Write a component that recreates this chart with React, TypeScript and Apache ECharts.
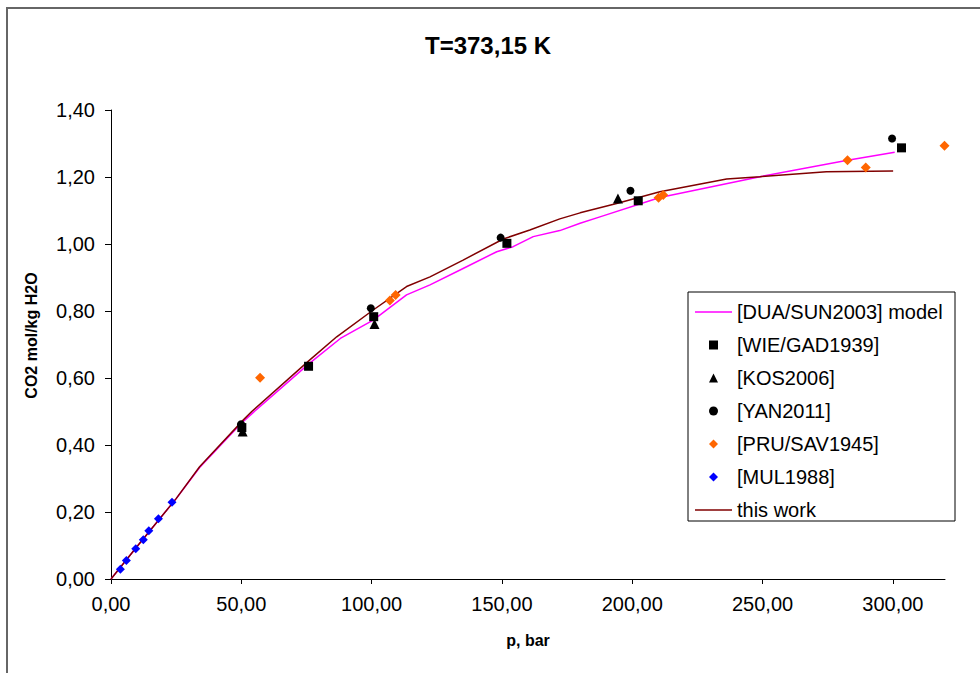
import React, { useEffect, useRef } from "react";
import * as echarts from "echarts";

const titleText = "T=373,15 K";
const xName = "p, bar";
const yName = "CO2 mol/kg H2O";
const xTicks = [0, 50, 100, 150, 200, 250, 300];

const duaSunModel: number[][] = [
  [0, 0], [10, 0.097], [25, 0.24], [34, 0.333], [50, 0.465], [54, 0.493], [76, 0.643],
  [88, 0.718], [100.6, 0.773], [113.4, 0.848], [122.4, 0.878], [135.1, 0.927], [148, 0.977],
  [154.3, 0.992], [162, 1.022], [172.2, 1.04], [180, 1.062], [187.6, 1.081], [210.6, 1.139],
  [249, 1.201], [282.6, 1.25], [300.7, 1.274],
];
const thisWork: number[][] = [
  [0, 0], [10, 0.097], [25, 0.24], [34, 0.335], [50.8, 0.475], [54, 0.5], [76.3, 0.654],
  [86.6, 0.723], [100.6, 0.803], [113.4, 0.873], [122.4, 0.902], [135.1, 0.952], [150.5, 1.015],
  [160.7, 1.042], [172.2, 1.075], [180, 1.093], [194, 1.121], [210.6, 1.156], [236.2, 1.194],
  [249, 1.201], [274.5, 1.216], [300.1, 1.218],
];
const wieGad1939: number[][] = [
  [50.2, 0.452], [75.8, 0.635], [100.8, 0.783], [151.9, 1.002], [202.3, 1.129], [303.3, 1.287],
];
const kos2006: number[][] = [[50.5, 0.44], [101.1, 0.761], [194.5, 1.136]];
const yan2011: number[][] = [
  [49.9, 0.462], [99.7, 0.808], [149.5, 1.019], [199.3, 1.159], [299.7, 1.315],
];
const pruSav1945: number[][] = [
  [57.2, 0.601], [107.0, 0.831], [109.2, 0.848], [210.1, 1.138], [211.9, 1.146],
  [282.6, 1.25], [289.6, 1.228], [319.8, 1.293],
];
const mul1988: number[][] = [
  [3.6, 0.029], [5.9, 0.055], [9.5, 0.09], [12.4, 0.117], [14.5, 0.144], [18.2, 0.18], [23.4, 0.229],
];

const FONT = "'Liberation Sans', Arial, sans-serif";
const fmt = (v: number) => v.toFixed(2).replace(".", ",");

const ICON_LINE = "path://M0,0H37V1.5H0Z";
const ICON_SQUARE = "path://M0,0H10V10H0Z";
const ICON_TRI = "path://M5,0L10,10L0,10Z";
const ICON_CIRCLE = "path://M0,5A5,5 0 1,0 10,5A5,5 0 1,0 0,5Z";
const ICON_DIAMOND = "path://M5,0L10,5L5,10L0,5Z";

export default function App() {
  const ref = useRef<HTMLDivElement>(null);
  useEffect(() => {
    if (!ref.current) return;
    const chart = echarts.init(ref.current, null, { renderer: "svg" });
    chart.setOption({
      animation: false,
      backgroundColor: "#fff",
      textStyle: { fontFamily: FONT },
      title: {
        text: titleText,
        left: 420,
        top: 28,
        textStyle: { fontFamily: FONT, fontWeight: "bold", fontSize: 24, color: "#000" },
      },
      graphic: [
        {
          type: "rect",
          shape: { x: 7, y: 8, width: 1000, height: 700 },
          style: { fill: "none", stroke: "#666", lineWidth: 2 },
          silent: true,
        },
        {
          type: "rect",
          shape: { x: 688, y: 292, width: 267, height: 229 },
          style: { fill: "#fff", stroke: "#000", lineWidth: 1 },
          z: 5,
          silent: true,
        },
      ],
      legend: {
        orient: "vertical",
        left: 695,
        top: 301,
        padding: 0,
        itemWidth: 37,
        itemHeight: 9,
        itemGap: 11,
        z: 10,
        textStyle: { fontFamily: FONT, fontSize: 20, color: "#000", lineHeight: 22 },
        data: [
          { name: "[DUA/SUN2003] model", icon: ICON_LINE },
          { name: "[WIE/GAD1939]", icon: ICON_SQUARE },
          { name: "[KOS2006]", icon: ICON_TRI },
          { name: "[YAN2011]", icon: ICON_CIRCLE },
          { name: "[PRU/SAV1945]", icon: ICON_DIAMOND },
          { name: "[MUL1988]", icon: ICON_DIAMOND },
          { name: "this work", icon: ICON_LINE },
        ],
      },
      grid: { left: 111, right: 35, top: 110, bottom: 94, containLabel: false },
      xAxis: {
        type: "value",
        min: 0,
        max: 320,
        interval: 50,
        name: xName,
        nameLocation: "middle",
        nameGap: 53,
        nameTextStyle: { fontFamily: FONT, fontWeight: "bold", fontSize: 16, color: "#000" },
        axisLine: { show: true, onZero: false, lineStyle: { color: "#000", width: 1 } },
        axisTick: { show: true, inside: false, length: 5, customValues: xTicks, lineStyle: { color: "#000" } },
        axisLabel: {
          customValues: xTicks,
          formatter: (v: number) => fmt(v),
          fontFamily: FONT,
          fontSize: 20,
          color: "#000",
          margin: 15,
        },
        splitLine: { show: false },
      },
      yAxis: {
        type: "value",
        min: 0,
        max: 1.4,
        interval: 0.2,
        name: yName,
        nameLocation: "middle",
        nameGap: 72,
        nameTextStyle: {
          fontFamily: FONT,
          fontWeight: "bold",
          fontSize: 16,
          color: "#000",
          padding: [0, 0, 0, 18],
        },
        axisLine: { show: true, lineStyle: { color: "#000", width: 1 } },
        axisTick: { show: true, inside: false, length: 6, lineStyle: { color: "#000" } },
        axisLabel: {
          formatter: (v: number) => fmt(v),
          fontFamily: FONT,
          fontSize: 20,
          color: "#000",
          margin: 16,
        },
        splitLine: { show: false },
      },
      series: [
        {
          name: "[DUA/SUN2003] model",
          type: "line",
          data: duaSunModel,
          symbol: "none",
          lineStyle: { color: "#FF00FF", width: 1.5 },
          itemStyle: { color: "#FF00FF" },
          z: 2,
        },
        {
          name: "[WIE/GAD1939]",
          type: "scatter",
          data: wieGad1939,
          symbol: "rect",
          symbolSize: 9,
          itemStyle: { color: "#000", opacity: 1 },
          z: 4,
        },
        {
          name: "[KOS2006]",
          type: "scatter",
          data: kos2006,
          symbol: "triangle",
          symbolSize: 10,
          itemStyle: { color: "#000", opacity: 1 },
          z: 4,
        },
        {
          name: "[YAN2011]",
          type: "scatter",
          data: yan2011,
          symbol: "circle",
          symbolSize: 8,
          itemStyle: { color: "#000", opacity: 1 },
          z: 4,
        },
        {
          name: "[PRU/SAV1945]",
          type: "scatter",
          data: pruSav1945,
          symbol: "diamond",
          symbolSize: 10,
          itemStyle: { color: "#FF6600", opacity: 1 },
          clip: false,
          z: 4,
        },
        {
          name: "[MUL1988]",
          type: "scatter",
          data: mul1988,
          symbol: "diamond",
          symbolSize: 9,
          itemStyle: { color: "#0000FF", opacity: 1 },
          z: 4,
        },
        {
          name: "this work",
          type: "line",
          data: thisWork,
          symbol: "none",
          lineStyle: { color: "#800000", width: 1.5 },
          itemStyle: { color: "#800000" },
          z: 3,
        },
      ],
    });
    return () => chart.dispose();
  }, []);
  return (
    <div
      ref={ref}
      style={{ position: "fixed", left: 0, top: 0, width: 980, height: 673 }}
    />
  );
}
